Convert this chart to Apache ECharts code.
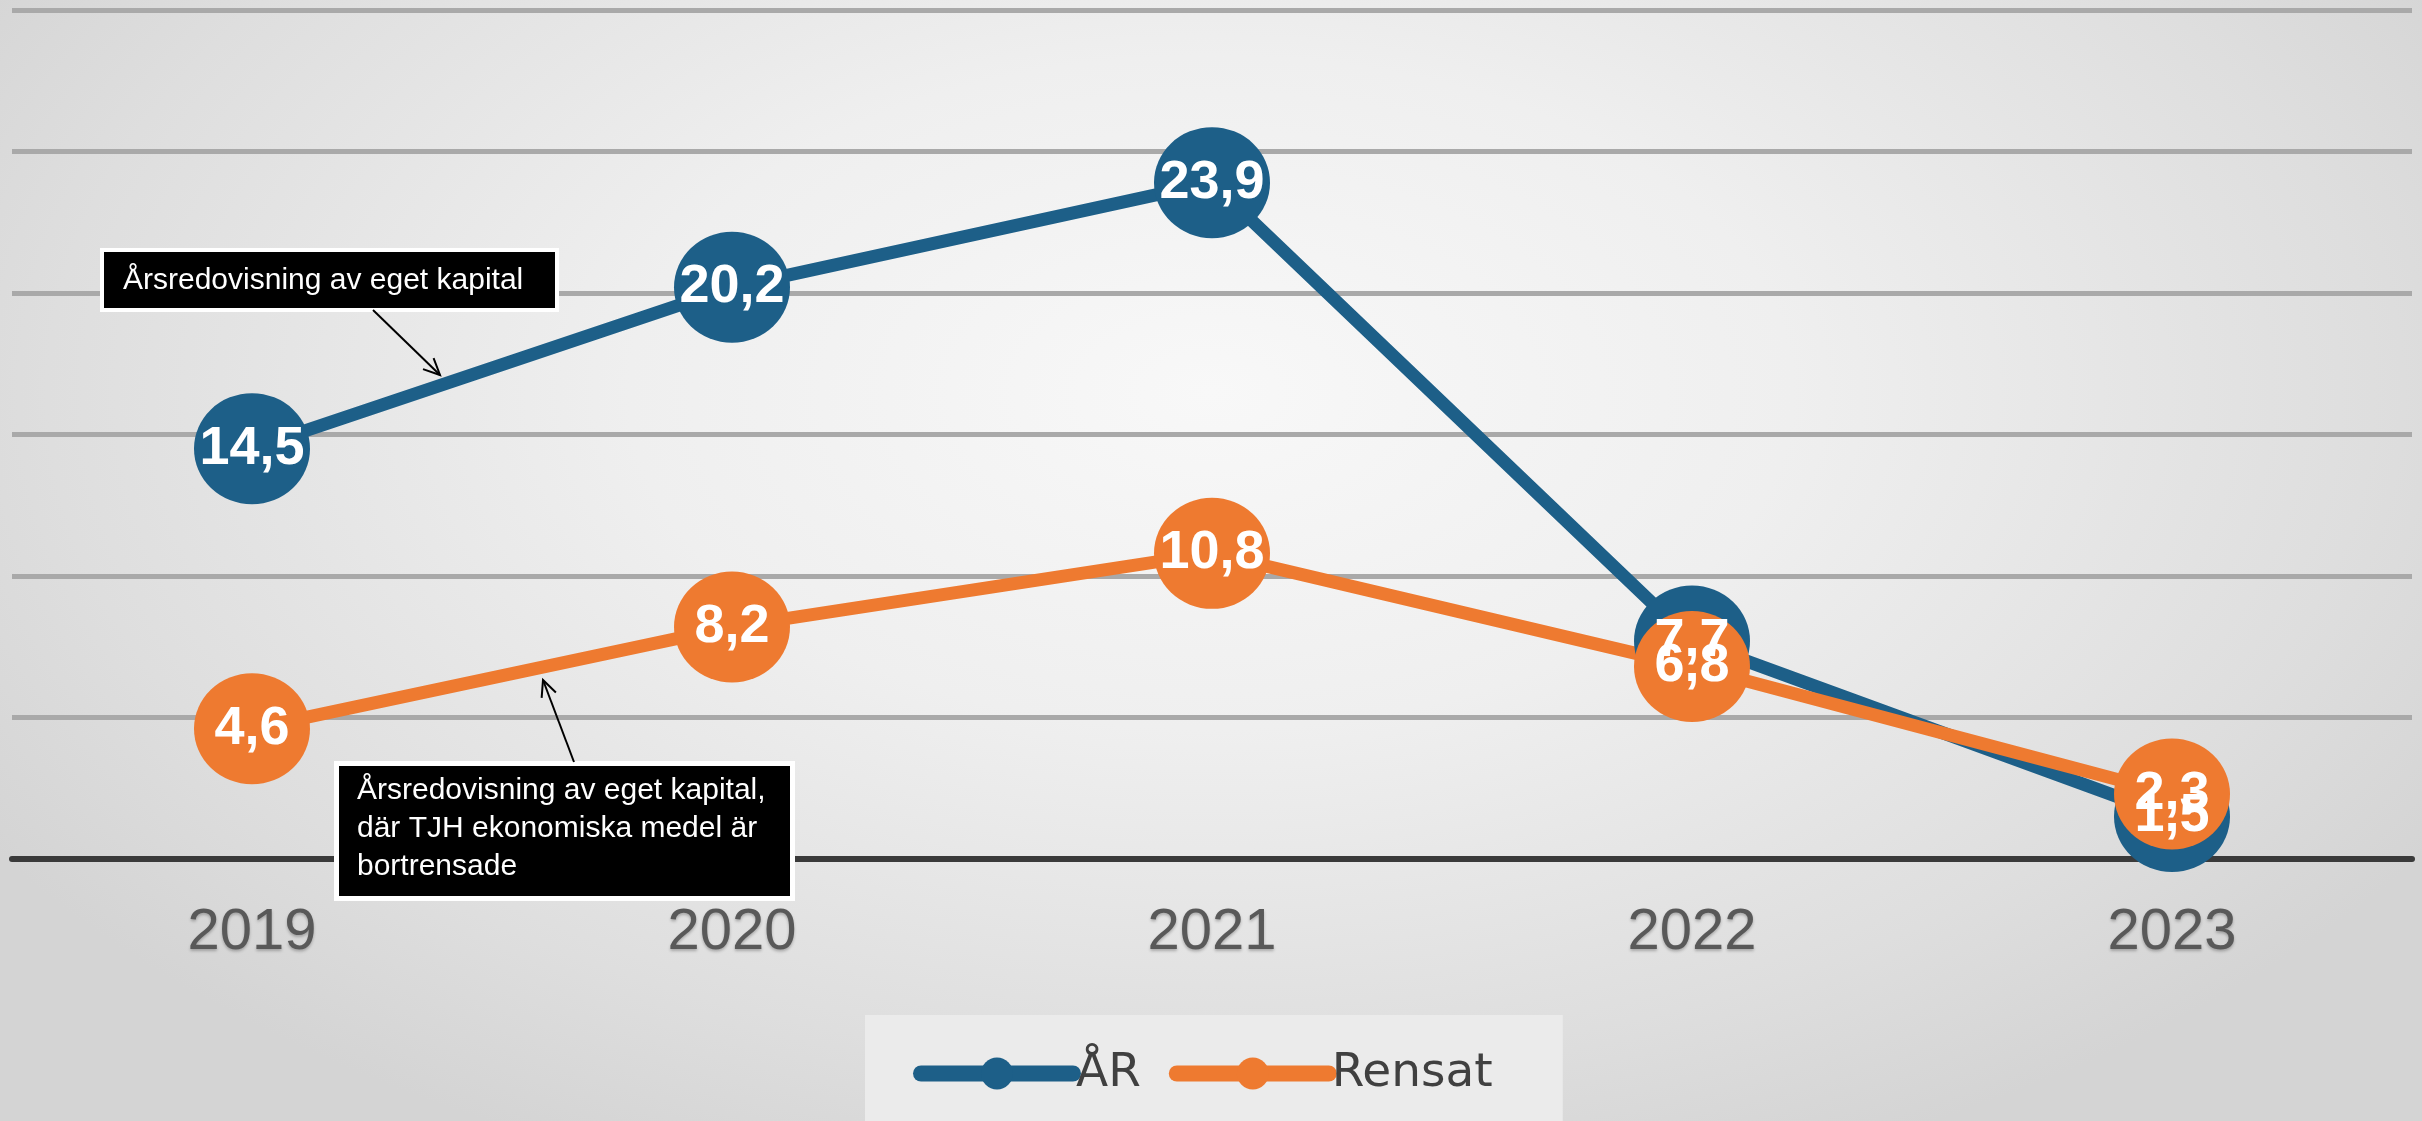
<!DOCTYPE html>
<html>
<head>
<meta charset="utf-8">
<script src="https://cdn.jsdelivr.net/npm/echarts@6/dist/echarts.min.js"></script>
<style>
html,body{margin:0;padding:0;width:2422px;height:1121px;overflow:hidden;
background: radial-gradient(ellipse 60% 75% at 50% 35%, #f8f8f8 0%, #efefef 40%, #dedede 80%, #d4d4d4 100%);}
#chart{width:2422px;height:1121px;}
</style>
</head>
<body>
<div id="chart"></div>
<script>
const categories = ['2019', '2020', '2021', '2022', '2023'];
const seriesAR = [14.5, 20.2, 23.9, 7.7, 1.5];
const seriesRensat = [4.6, 8.2, 10.8, 6.8, 2.3];
const seriesNames = ['ÅR', 'Rensat'];
const note1 = 'Årsredovisning av eget kapital';
const note2 = 'Årsredovisning av eget kapital,\ndär TJH ekonomiska medel är\nbortrensade';

const BLUE = '#1d5f88';
const ORANGE = '#ee7a30';
const FONT = '"Liberation Sans", Arial, sans-serif';

function arrow(x1, y1, x2, y2) {
  const dx = x2 - x1, dy = y2 - y1, len = Math.hypot(dx, dy);
  const ux = dx / len, uy = dy / len, L = 18, a = 25 * Math.PI / 180;
  const c = Math.cos(a), s = Math.sin(a);
  const r1 = [ux * c - uy * s, ux * s + uy * c];
  const r2 = [ux * c + uy * s, -ux * s + uy * c];
  const st = {stroke: '#000', lineWidth: 2, fill: null};
  return [
    {type: 'polyline', shape: {points: [[x1, y1], [x2, y2]]}, style: st, z: 50},
    {type: 'polyline', shape: {points: [[x2 - L * r1[0], y2 - L * r1[1]], [x2, y2], [x2 - L * r2[0], y2 - L * r2[1]]]}, style: st, z: 50}
  ];
}

function labelFmt(p) { return String(p.value).replace('.', ','); }

const chart = echarts.init(document.getElementById('chart'), null, {renderer: 'canvas'});
const option = {
  backgroundColor: 'transparent',
  animation: false,
  grid: {left: 12, right: 10, top: 10, bottom: 262, containLabel: false},
  xAxis: {
    type: 'category',
    data: categories,
    boundaryGap: true,
    axisLine: {show: true, lineStyle: {color: '#3a3a3a', width: 6}},
    axisTick: {show: false},
    axisLabel: {color: '#595959', fontFamily: FONT, fontSize: 58, margin: 45,
      textShadowColor: 'rgba(0,0,0,0.25)', textShadowBlur: 3, textShadowOffsetY: 2},
    z: 3
  },
  yAxis: {
    type: 'value', min: 0, max: 30, interval: 5,
    axisLine: {show: false}, axisTick: {show: false}, axisLabel: {show: false},
    splitLine: {show: true, lineStyle: {color: '#a9a9a9', width: 5}}
  },
  legend: {
    data: seriesNames,
    left: 865, top: 1015,
    backgroundColor: 'rgba(236,236,236,0.9)',
    padding: [35, 70, 40, 48],
    itemWidth: 152, itemHeight: 40, itemGap: 28,
    lineStyle: {width: 16, cap: 'round'},
    textStyle: {color: '#404040', fontFamily: '"DejaVu Sans", sans-serif', fontSize: 47, padding: [0, 0, 0, -2]}
  },
  series: [
    {
      name: seriesNames[0], type: 'line', data: seriesAR,
      symbol: 'circle', symbolSize: [116, 111],
      lineStyle: {color: BLUE, width: 13},
      itemStyle: {color: BLUE},
      label: {show: true, position: 'inside', formatter: labelFmt, color: '#fff',
        fontFamily: FONT, fontWeight: 'bold', fontSize: 54},
      labelLayout: {hideOverlap: false},
      z: 5
    },
    {
      name: seriesNames[1], type: 'line', data: seriesRensat,
      symbol: 'circle', symbolSize: [116, 111],
      lineStyle: {color: ORANGE, width: 13},
      itemStyle: {color: ORANGE},
      label: {show: true, position: 'inside', formatter: labelFmt, color: '#fff',
        fontFamily: FONT, fontWeight: 'bold', fontSize: 54},
      labelLayout: {hideOverlap: false},
      z: 5
    }
  ],
  graphic: [
    {type: 'rect', shape: {x: 100, y: 248, width: 459, height: 64}, style: {fill: '#fff'}, z: 40},
    {type: 'rect', shape: {x: 104, y: 252, width: 451, height: 56}, style: {fill: '#000'}, z: 41},
    {type: 'text', x: 123, y: 281, style: {text: note1, fill: '#fff', font: '30px ' + FONT, verticalAlign: 'middle'}, z: 42},
    {type: 'rect', shape: {x: 334, y: 761, width: 461, height: 140}, style: {fill: '#fff'}, z: 40},
    {type: 'rect', shape: {x: 339, y: 766, width: 451, height: 130}, style: {fill: '#000'}, z: 41},
    {type: 'text', x: 357, y: 772, style: {text: note2, fill: '#fff', font: '30px ' + FONT, lineHeight: 38, verticalAlign: 'top'}, z: 42},
    ...arrow(373, 310, 440, 375),
    ...arrow(574, 762, 543, 680)
  ]
};
chart.setOption(option);
</script>
</body>
</html>
